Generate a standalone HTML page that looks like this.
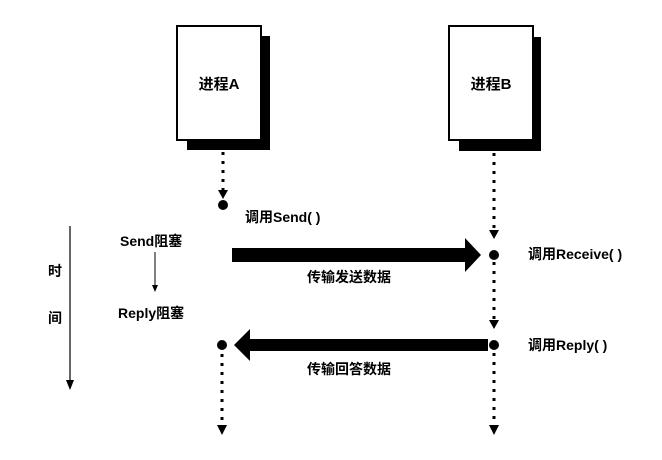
<!DOCTYPE html>
<html><head><meta charset="utf-8"><style>
body{margin:0;background:#fff;}
svg text{font-family:"Liberation Sans","Noto Sans CJK SC",sans-serif;font-weight:bold;fill:#000;}
</style></head><body>
<svg width="662" height="455" viewBox="0 0 662 455" xmlns="http://www.w3.org/2000/svg">
<rect x="187" y="36" width="83" height="114" fill="#000"/>
<rect x="177" y="26" width="84" height="114" fill="#fff" stroke="#000" stroke-width="2"/>
<text x="219" y="89" font-size="15" text-anchor="middle">进程A</text>
<rect x="459" y="37" width="82" height="114" fill="#000"/>
<rect x="449" y="26" width="84" height="114" fill="#fff" stroke="#000" stroke-width="2"/>
<text x="491" y="89" font-size="15" text-anchor="middle">进程B</text>
<g stroke="#000" stroke-width="3" stroke-dasharray="3,6">
<line x1="223" y1="152" x2="223" y2="190"/>
<line x1="494" y1="153" x2="494" y2="230"/>
<line x1="494" y1="262" x2="494" y2="320"/>
<line x1="494" y1="353" x2="494" y2="425"/>
<line x1="222" y1="354" x2="222" y2="425"/>
</g>
<g fill="#000">
<polygon points="218,190 228,190 223,199"/>
<polygon points="489,230 499,230 494,239"/>
<polygon points="489,320 499,320 494,329"/>
<polygon points="489,425 499,425 494,435"/>
<polygon points="217,425 227,425 222,435"/>
<circle cx="223" cy="205" r="5"/>
<circle cx="494" cy="255" r="5"/>
<circle cx="494" cy="345" r="5"/>
<circle cx="222" cy="345" r="5"/>
<polygon points="232,248 465,248 465,238 481,255 465,272 465,262 232,262"/>
<polygon points="488,339 250,339 250,329 234,345 250,361 250,351 488,351"/>
<polygon points="66,380 74,380 70,390"/>
<polygon points="152,285 158,285 155,292"/>
</g>
<line x1="70" y1="226" x2="70" y2="382" stroke="#000" stroke-width="1.2"/>
<line x1="155" y1="252" x2="155" y2="286" stroke="#000" stroke-width="1"/>
<text x="245" y="222" font-size="14">调用Send( )</text>
<text x="120" y="246" font-size="14">Send阻塞</text>
<text x="118" y="318" font-size="14">Reply阻塞</text>
<text x="48" y="276" font-size="14">时</text>
<text x="48" y="323" font-size="14">间</text>
<text x="307" y="282" font-size="14">传输发送数据</text>
<text x="307" y="374" font-size="14">传输回答数据</text>
<text x="528" y="259" font-size="14">调用Receive( )</text>
<text x="528" y="350" font-size="14">调用Reply( )</text>
</svg>
</body></html>
